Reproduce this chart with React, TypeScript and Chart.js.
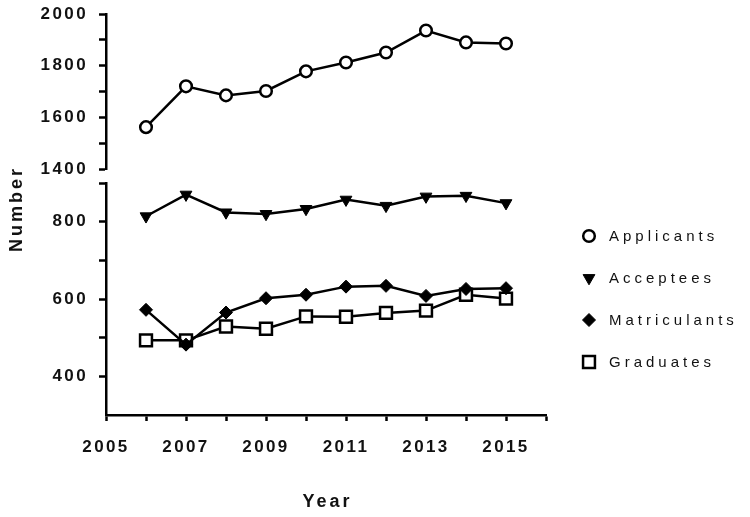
import React, { useEffect, useRef } from 'react';
import { Chart, registerables } from 'chart.js';
import { drawPoint } from 'chart.js/helpers';

Chart.register(...registerables);

const years = [2006, 2007, 2008, 2009, 2010, 2011, 2012, 2013, 2014, 2015];
const applicants = [1562, 1720, 1685, 1702, 1778, 1812, 1851, 1936, 1890, 1886];
const acceptees = [814, 870, 824, 820, 833, 857, 841, 865, 867, 848];
const matriculants = [572, 482, 565, 602, 611, 632, 634, 608, 626, 628];
const graduates = [493, 493, 529, 523, 555, 554, 564, 570, 611, 601];

const seriesNames = ['Applicants', 'Acceptees', 'Matriculants', 'Graduates'];
const xTickLabels = [2005, 2007, 2009, 2011, 2013, 2015];
const upperTickLabels = [1400, 1600, 1800, 2000];
const lowerTickLabels = [400, 600, 800];

const FONT = "'Liberation Sans', Arial, Helvetica, sans-serif";

const markerStyles = [
  { pointStyle: 'circle', radius: 5.8, rotation: 0, bg: '#ffffff', borderWidth: 2.5 },
  { pointStyle: 'triangle', radius: 6.8, rotation: 180, bg: '#000000', borderWidth: 1 },
  { pointStyle: 'rectRot', radius: 6.5, rotation: 0, bg: '#000000', borderWidth: 1 },
  { pointStyle: 'rect', radius: 8.4, rotation: 0, bg: '#ffffff', borderWidth: 2.5 },
];

const setSpacing = (chart: any) => {
  (chart.ctx as any).letterSpacing = '2.4px';
};

const spacingPlugin = {
  id: 'spacing',
  beforeUpdate: setSpacing,
  beforeLayout: setSpacing,
  beforeDraw: setSpacing,
};

const decorPlugin = {
  id: 'decor',
  afterDraw(chart: any) {
    const ctx = chart.ctx as any;
    const area = chart.chartArea;
    // Axis titles
    ctx.save();
    ctx.fillStyle = '#111';
    ctx.font = `bold 18px ${FONT}`;
    ctx.letterSpacing = '3px';
    ctx.textAlign = 'center';
    ctx.textBaseline = 'alphabetic';
    ctx.fillText('Year', (area.left + area.right) / 2 + 1.5, 507);
    ctx.translate(22, (area.top + area.bottom) / 2 - 4);
    ctx.rotate(-Math.PI / 2);
    ctx.fillText('Number', 1.5, 0);
    ctx.restore();

    // Legend
    ctx.save();
    ctx.font = `15px ${FONT}`;
    ctx.letterSpacing = '4px';
    ctx.textAlign = 'left';
    ctx.textBaseline = 'middle';
    seriesNames.forEach((name, i) => {
      const m = markerStyles[i];
      const cy = 236 + i * 42;
      ctx.fillStyle = m.bg;
      ctx.strokeStyle = '#000';
      ctx.lineWidth = m.borderWidth;
      drawPoint(ctx, { pointStyle: m.pointStyle, radius: m.radius, rotation: m.rotation, borderWidth: m.borderWidth } as any, 589, cy);
      ctx.fillStyle = '#111';
      ctx.fillText(name, 609, cy + 1);
    });
    ctx.restore();
  },
};

const axisCommon = (labels: number[], hideValue?: number) => ({
  type: 'linear' as const,
  position: 'left' as const,
  stack: 'ystack',
  border: { display: true, color: '#000', width: 2.5 },
  grid: {
    display: true,
    drawOnChartArea: false,
    drawTicks: true,
    tickLength: 7,
    tickWidth: 2.5,
    tickColor: (c: any) => (hideValue !== undefined && c.tick && c.tick.value === hideValue ? 'rgba(0,0,0,0)' : '#000'),
  },
  ticks: {
    stepSize: 100,
    autoSkip: false,
    padding: 11,
    color: '#111',
    font: { family: FONT, size: 17, weight: 'bold' as const },
    callback: (v: any) => (labels.includes(Number(v)) ? String(v) : ''),
  },
  afterFit: (scale: any) => {
    scale.width = 106;
    scale.paddingTop = 0;
    scale.paddingBottom = 0;
  },
});

export default function App() {
  const canvasRef = useRef<HTMLCanvasElement | null>(null);

  useEffect(() => {
    if (!canvasRef.current) return;
    const datasets = [applicants, acceptees, matriculants, graduates].map((vals, i) => {
      const m = markerStyles[i];
      return {
        label: seriesNames[i],
        data: years.map((yr, j) => ({ x: yr, y: vals[j] })),
        yAxisID: i === 0 ? 'yTop' : 'yBot',
        borderColor: '#000',
        borderWidth: 2.5,
        backgroundColor: m.bg,
        pointStyle: m.pointStyle,
        pointRadius: m.radius,
        pointHoverRadius: m.radius,
        pointRotation: m.rotation,
        pointBackgroundColor: m.bg,
        pointBorderColor: '#000',
        pointBorderWidth: m.borderWidth,
        tension: 0,
        fill: false,
        clip: false as any,
      };
    });

    const chart = new Chart(canvasRef.current, {
      type: 'line',
      data: { datasets: datasets as any },
      plugins: [spacingPlugin, decorPlugin],
      options: {
        animation: false,
        responsive: true,
        maintainAspectRatio: false,
        events: [],
        layout: { padding: { top: 14, right: 204, bottom: 0, left: 0 } },
        plugins: { legend: { display: false }, tooltip: { enabled: false } },
        scales: {
          x: {
            type: 'linear',
            min: 2005,
            max: 2016,
            border: { display: true, color: '#000', width: 2.5 },
            grid: {
              display: true,
              drawOnChartArea: false,
              drawTicks: true,
              tickLength: 6,
              tickWidth: 2.5,
              tickColor: '#000',
            },
            ticks: {
              stepSize: 1,
              padding: 16,
              maxRotation: 0,
              autoSkip: false,
              color: '#111',
              font: { family: FONT, size: 17, weight: 'bold' },
              callback: (v: any) => (xTickLabels.includes(Number(v)) ? String(v) : ''),
            },
            afterFit: (scale: any) => {
              scale.height = 102;
              scale.paddingLeft = 0;
              scale.paddingRight = 0;
            },
          },
          yBot: {
            ...axisCommon(lowerTickLabels, 300),
            min: 300,
            max: 900,
            stackWeight: 232,
          },
          yGap: {
            type: 'linear',
            position: 'left',
            stack: 'ystack',
            stackWeight: 14,
            min: 0,
            max: 1,
            border: { display: false },
            grid: { display: false },
            ticks: { display: false },
            afterFit: (scale: any) => {
              scale.width = 106;
              scale.paddingTop = 0;
              scale.paddingBottom = 0;
            },
          },
          yTop: {
            ...axisCommon(upperTickLabels),
            min: 1400,
            max: 2000,
            stackWeight: 155,
          },
        } as any,
      },
    });
    return () => chart.destroy();
  }, []);

  return (
    <div style={{ position: 'fixed', left: 0, top: 0, width: 750, height: 517, background: '#fff' }}>
      <canvas ref={canvasRef} />
    </div>
  );
}
